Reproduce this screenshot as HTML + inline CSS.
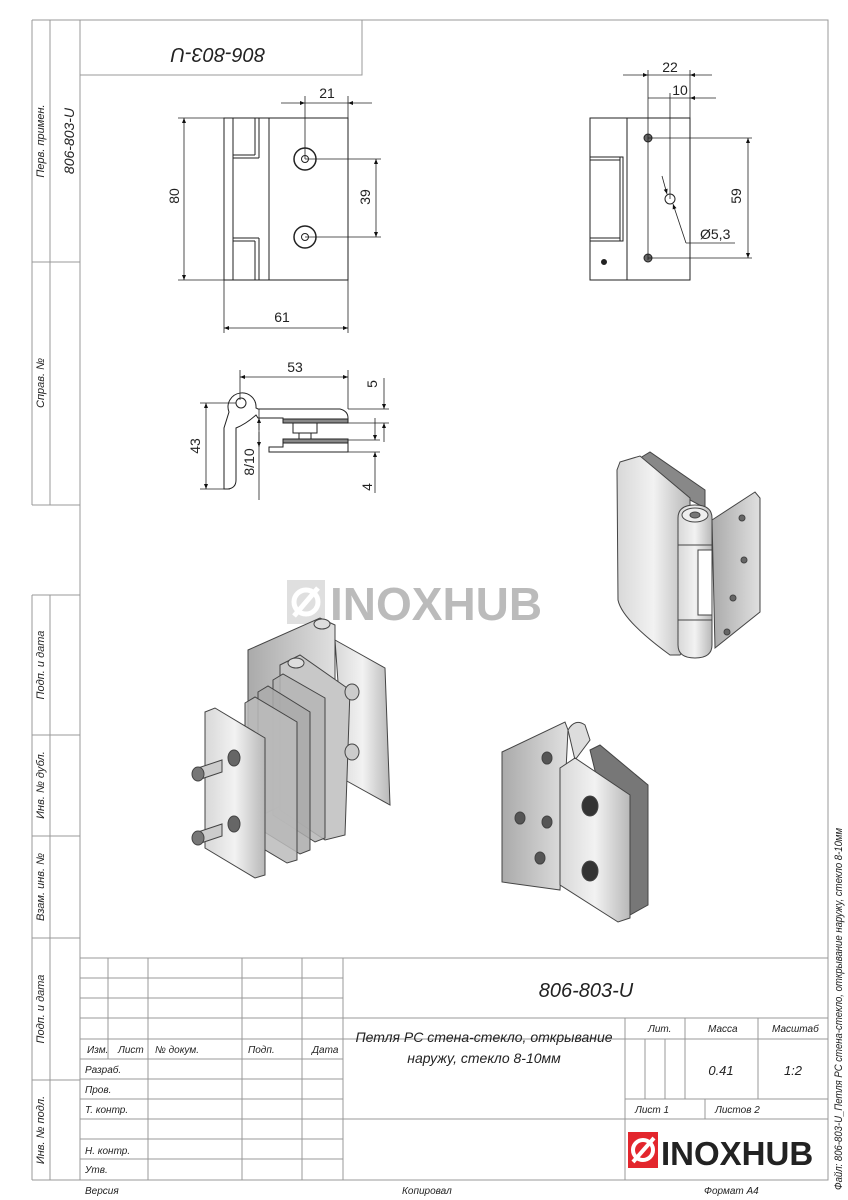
<!DOCTYPE html>
<html><head><meta charset="utf-8"><style>
body{margin:0;background:#fff}
svg{display:block}
text{font-family:"Liberation Sans Narrow","Liberation Sans",sans-serif;fill:#222;font-style:italic}
.d{font-style:normal}
</style></head><body>
<svg width="848" height="1200" viewBox="0 0 848 1200" xmlns="http://www.w3.org/2000/svg">
<defs>
<marker id="a" viewBox="0 0 10 10" refX="10" refY="5" markerWidth="9" markerHeight="5" orient="auto-start-reverse" markerUnits="userSpaceOnUse"><path d="M0,1 L10,5 L0,9z" fill="#111"/></marker>
<linearGradient id="m" x1="0" x2="1"><stop offset="0" stop-color="#d8d8d8"/><stop offset=".5" stop-color="#f2f2f2"/><stop offset="1" stop-color="#b8b8b8"/></linearGradient>
<linearGradient id="m2" x1="0" x2="1"><stop offset="0" stop-color="#aaa"/><stop offset="1" stop-color="#e0e0e0"/></linearGradient>
</defs>
<g fill="none" stroke="#999" stroke-width="1">
<rect x="80" y="20" width="748" height="1160"/>
<line x1="32" y1="20" x2="80" y2="20"/>
<line x1="32" y1="20" x2="32" y2="505"/>
<line x1="50" y1="20" x2="50" y2="505"/>
<line x1="32" y1="262" x2="80" y2="262"/>
<line x1="32" y1="505" x2="80" y2="505"/>
<line x1="32" y1="595" x2="80" y2="595"/>
<line x1="32" y1="595" x2="32" y2="1180"/>
<line x1="50" y1="595" x2="50" y2="1180"/>
<line x1="32" y1="735" x2="80" y2="735"/>
<line x1="32" y1="836" x2="80" y2="836"/>
<line x1="32" y1="938" x2="80" y2="938"/>
<line x1="32" y1="1080" x2="80" y2="1080"/>
<line x1="32" y1="1180" x2="80" y2="1180"/>
<rect x="80" y="20" width="282" height="55"/>
<line x1="80" y1="958" x2="828" y2="958"/>
<line x1="80" y1="978" x2="343" y2="978"/>
<line x1="80" y1="998" x2="343" y2="998"/>
<line x1="80" y1="1018" x2="828" y2="1018"/>
<line x1="80" y1="1039" x2="828" y2="1039"/>
<line x1="80" y1="1059" x2="343" y2="1059"/>
<line x1="80" y1="1079" x2="343" y2="1079"/>
<line x1="80" y1="1099" x2="343" y2="1099"/>
<line x1="625" y1="1099" x2="828" y2="1099"/>
<line x1="80" y1="1119" x2="828" y2="1119"/>
<line x1="80" y1="1139" x2="343" y2="1139"/>
<line x1="80" y1="1159" x2="343" y2="1159"/>
<line x1="108" y1="958" x2="108" y2="1059"/>
<line x1="148" y1="958" x2="148" y2="1180"/>
<line x1="242" y1="958" x2="242" y2="1180"/>
<line x1="302" y1="958" x2="302" y2="1180"/>
<line x1="343" y1="958" x2="343" y2="1180"/>
<line x1="625" y1="1018" x2="625" y2="1180"/>
<line x1="685" y1="1018" x2="685" y2="1099"/>
<line x1="758" y1="1018" x2="758" y2="1099"/>
<line x1="645" y1="1039" x2="645" y2="1099"/>
<line x1="665" y1="1039" x2="665" y2="1099"/>
<line x1="705" y1="1099" x2="705" y2="1119"/>
</g>
<g font-size="11">
<text transform="translate(44,141) rotate(-90)" text-anchor="middle">Перв. примен.</text>
<text transform="translate(74,141) rotate(-90)" text-anchor="middle" font-size="14">806-803-U</text>
<text transform="translate(44,383) rotate(-90)" text-anchor="middle">Справ. №</text>
<text transform="translate(44,665) rotate(-90)" text-anchor="middle">Подп. и дата</text>
<text transform="translate(44,785) rotate(-90)" text-anchor="middle">Инв. № дубл.</text>
<text transform="translate(44,887) rotate(-90)" text-anchor="middle">Взам. инв. №</text>
<text transform="translate(44,1009) rotate(-90)" text-anchor="middle">Подп. и дата</text>
<text transform="translate(44,1130) rotate(-90)" text-anchor="middle">Инв. № подл.</text>
<text transform="translate(842,1190) rotate(-90)" font-size="11" textLength="362" lengthAdjust="spacingAndGlyphs">Файл: 806-803-U_Петля PC стена-стекло, открывание наружу, стекло 8-10мм</text>
<text transform="translate(218,48) rotate(180)" text-anchor="middle" font-size="20">806-803-U</text>
</g>
<g font-size="10">
<text x="87" y="1053">Изм.</text><text x="118" y="1053">Лист</text><text x="155" y="1053">№ докум.</text><text x="248" y="1053">Подп.</text><text x="312" y="1053">Дата</text>
<text x="85" y="1073">Разраб.</text><text x="85" y="1093">Пров.</text><text x="85" y="1113">Т. контр.</text><text x="85" y="1154">Н. контр.</text><text x="85" y="1173">Утв.</text>
<text x="648" y="1032">Лит.</text><text x="708" y="1032">Масса</text><text x="772" y="1032">Масштаб</text>
<text x="635" y="1113">Лист 1</text><text x="715" y="1113">Листов 2</text>
<text x="85" y="1194">Версия</text><text x="402" y="1194">Копировал</text><text x="704" y="1194">Формат А4</text>
</g>
<text x="586" y="997" font-size="20" text-anchor="middle">806-803-U</text>
<text x="484" y="1042" font-size="14" text-anchor="middle">Петля PC стена-стекло, открывание</text>
<text x="484" y="1063" font-size="14" text-anchor="middle">наружу, стекло 8-10мм</text>
<text x="721" y="1075" font-size="13" text-anchor="middle">0.41</text>
<text x="793" y="1075" font-size="13" text-anchor="middle">1:2</text>
<rect x="628" y="1132" width="30" height="36" fill="#e3262d"/>
<circle cx="643" cy="1150" r="10" fill="none" stroke="#fff" stroke-width="4"/>
<line x1="633" y1="1162" x2="654" y2="1138" stroke="#fff" stroke-width="4"/>
<text x="661" y="1165" font-size="33" font-weight="bold" style="font-style:normal;font-family:'Liberation Sans',sans-serif" fill="#222">INOXHUB</text>
<g opacity=".3">
<rect x="287" y="580" width="38" height="44" fill="#999"/>
<circle cx="306" cy="602" r="12" fill="none" stroke="#fff" stroke-width="5"/>
<line x1="294" y1="616" x2="318" y2="588" stroke="#fff" stroke-width="5"/>
<text x="330" y="620" font-size="46" font-weight="bold" style="font-style:normal;font-family:'Liberation Sans',sans-serif" fill="#999">INOXHUB</text>
</g>

<g fill="none" stroke="#222" stroke-width="1">
<rect x="224" y="118" width="124" height="162"/>
<line x1="233" y1="118" x2="233" y2="280"/>
<line x1="269" y1="118" x2="269" y2="280"/>
<line x1="259" y1="118" x2="259" y2="158"/><line x1="255" y1="118" x2="255" y2="155"/>
<line x1="233" y1="155" x2="255" y2="155"/><line x1="233" y1="158" x2="259" y2="158"/>
<line x1="259" y1="238" x2="259" y2="280"/><line x1="255" y1="241" x2="255" y2="280"/>
<line x1="233" y1="238" x2="259" y2="238"/><line x1="233" y1="241" x2="255" y2="241"/>
<circle cx="305" cy="159" r="11" stroke-width="1.5"/><circle cx="305" cy="159" r="3.5"/>
<circle cx="305" cy="237" r="11" stroke-width="1.5"/><circle cx="305" cy="237" r="3.5"/>
<g stroke-width=".8">
<line x1="305" y1="96" x2="305" y2="159"/><line x1="348" y1="96" x2="348" y2="118"/>
<line x1="281" y1="103" x2="305" y2="103" marker-end="url(#a)"/><line x1="372" y1="103" x2="348" y2="103" marker-end="url(#a)"/>
<line x1="305" y1="103" x2="348" y2="103"/>
<line x1="178" y1="118" x2="224" y2="118"/><line x1="178" y1="280" x2="224" y2="280"/>
<line x1="184" y1="118" x2="184" y2="280" marker-start="url(#a)" marker-end="url(#a)"/>
<line x1="305" y1="159" x2="381" y2="159"/><line x1="305" y1="237" x2="381" y2="237"/>
<line x1="376" y1="159" x2="376" y2="237" marker-start="url(#a)" marker-end="url(#a)"/>
<line x1="224" y1="280" x2="224" y2="333"/><line x1="348" y1="280" x2="348" y2="333"/>
<line x1="224" y1="328" x2="348" y2="328" marker-start="url(#a)" marker-end="url(#a)"/>
</g>
</g>
<g font-size="14" class="d">
<text x="327" y="98" text-anchor="middle" class="d">21</text>
<text transform="translate(179,196) rotate(-90)" text-anchor="middle" class="d">80</text>
<text transform="translate(370,197) rotate(-90)" text-anchor="middle" class="d">39</text>
<text x="282" y="322" text-anchor="middle" class="d">61</text>
</g>

<g fill="none" stroke="#222" stroke-width="1">
<rect x="590" y="118" width="100" height="162"/>
<line x1="627" y1="118" x2="627" y2="280"/>
<rect x="590" y="157" width="33" height="84"/>
<line x1="590" y1="160" x2="620" y2="160"/><line x1="590" y1="238" x2="620" y2="238"/>
<line x1="620" y1="157" x2="620" y2="241"/>
<circle cx="604" cy="262" r="2.5" fill="#222"/>
<circle cx="648" cy="138" r="4" fill="#666"/><circle cx="648" cy="258" r="4" fill="#666"/>
<circle cx="670" cy="199" r="5"/>
<g stroke-width=".8">
<line x1="648" y1="70" x2="648" y2="260"/><line x1="670" y1="93" x2="670" y2="199"/><line x1="690" y1="70" x2="690" y2="118"/>
<line x1="623" y1="75" x2="648" y2="75" marker-end="url(#a)"/><line x1="648" y1="75" x2="690" y2="75"/><line x1="712" y1="75" x2="690" y2="75" marker-end="url(#a)"/>
<line x1="648" y1="98" x2="670" y2="98"/><line x1="716" y1="98" x2="690" y2="98" marker-end="url(#a)"/><line x1="690" y1="98" x2="670" y2="98"/>
<line x1="648" y1="138" x2="752" y2="138"/><line x1="648" y1="258" x2="752" y2="258"/>
<line x1="748" y1="138" x2="748" y2="258" marker-start="url(#a)" marker-end="url(#a)"/>
<line x1="662" y1="176" x2="667" y2="194" marker-end="url(#a)"/>
<line x1="686" y1="243" x2="673" y2="204" marker-end="url(#a)"/>
<line x1="686" y1="243" x2="735" y2="243"/>
</g>
</g>
<text x="670" y="72" font-size="14" text-anchor="middle" class="d">22</text>
<text x="680" y="95" font-size="14" text-anchor="middle" class="d">10</text>
<text transform="translate(741,196) rotate(-90)" font-size="14" text-anchor="middle" class="d">59</text>
<text x="700" y="239" font-size="14" class="d">Ø5,3</text>

<g fill="none" stroke="#222" stroke-width="1">
<path d="M229,412 A14,14 0 1 1 256,408 L258,409 L340,409 Q348,411 348,418 L348,423 L283,423 L283,418 L258,418 L256,415 Q246,424 236,428 L236,480 Q236,488 228,489 L224,489 L224,428 Z"/>
<circle cx="241" cy="403" r="5"/>
<rect x="283" y="419" width="65" height="4" fill="#888"/>
<rect x="293" y="423" width="24" height="10"/>
<rect x="299" y="433" width="12" height="6"/>
<path d="M283,439 L348,439 L348,452 L269,452 L269,447 L283,447 Z"/>
<rect x="283" y="439" width="65" height="4" fill="#888"/>
<g stroke-width=".8">
<line x1="240" y1="370" x2="240" y2="400"/><line x1="348" y1="370" x2="348" y2="409"/>
<line x1="240" y1="377" x2="348" y2="377" marker-start="url(#a)" marker-end="url(#a)"/>
<line x1="200" y1="403" x2="236" y2="403"/><line x1="200" y1="489" x2="230" y2="489"/>
<line x1="206" y1="403" x2="206" y2="489" marker-start="url(#a)" marker-end="url(#a)"/>
<line x1="259" y1="409" x2="259" y2="500"/>
<line x1="259" y1="430" x2="259" y2="418" marker-end="url(#a)"/><line x1="259" y1="432" x2="259" y2="447" marker-end="url(#a)"/>
<line x1="348" y1="409" x2="389" y2="409"/><line x1="348" y1="423" x2="389" y2="423"/>
<line x1="384" y1="378" x2="384" y2="409" marker-end="url(#a)"/><line x1="384" y1="442" x2="384" y2="423" marker-end="url(#a)"/>
<line x1="348" y1="440" x2="380" y2="440"/><line x1="348" y1="452" x2="380" y2="452"/>
<line x1="375" y1="418" x2="375" y2="440" marker-end="url(#a)"/><line x1="375" y1="493" x2="375" y2="452" marker-end="url(#a)"/>
</g>
</g>
<text x="295" y="372" font-size="14" text-anchor="middle" class="d">53</text>
<text transform="translate(200,446) rotate(-90)" font-size="14" text-anchor="middle" class="d">43</text>
<text transform="translate(254,462) rotate(-90)" font-size="14" text-anchor="middle" class="d">8/10</text>
<text transform="translate(377,384) rotate(-90)" font-size="14" text-anchor="middle" class="d">5</text>
<text transform="translate(372,487) rotate(-90)" font-size="14" text-anchor="middle" class="d">4</text>

<g stroke="#444" stroke-width="1">
<path d="M712,520 L755,492 L760,498 L760,612 L715,648 Z" fill="url(#m2)"/>
<circle cx="742" cy="518" r="3" fill="#666"/><circle cx="744" cy="560" r="3" fill="#666"/><circle cx="733" cy="598" r="3" fill="#666"/><circle cx="727" cy="632" r="3" fill="#666"/>
<path d="M640,458 L650,452 L705,490 L705,508 L690,500 Z" fill="#888"/>
<path d="M620,462 L640,456 L690,498 L690,640 L680,655 L670,655 Q622,620 618,600 L617,470 Z" fill="url(#m)"/>
<path d="M678,518 Q678,505 695,505 Q712,505 712,518 L712,645 Q712,658 695,658 Q678,658 678,645 Z" fill="url(#m)"/>
<ellipse cx="695" cy="515" rx="13" ry="7" fill="#eee"/><ellipse cx="695" cy="515" rx="5" ry="3" fill="#777"/>
<line x1="678" y1="545" x2="712" y2="545"/><line x1="678" y1="620" x2="712" y2="620"/>
<rect x="698" y="550" width="14" height="65" fill="#fff"/>
</g>
<g stroke="#444" stroke-width="1">
<path d="M502,752 L565,722 L568,730 L560,890 L502,882 Z" fill="url(#m2)"/>
<ellipse cx="547" cy="758" rx="5" ry="6" fill="#555"/><ellipse cx="520" cy="818" rx="5" ry="6" fill="#555"/><ellipse cx="547" cy="822" rx="5" ry="6" fill="#555"/><ellipse cx="540" cy="858" rx="5" ry="6" fill="#555"/>
<path d="M568,730 Q575,718 585,725 L590,740 L575,760 Z" fill="#ddd"/>
<path d="M590,750 L600,745 L648,785 L648,905 L630,915 Z" fill="#777"/>
<path d="M560,768 L575,758 L630,795 L630,918 L618,922 L560,885 Z" fill="url(#m)"/>
<ellipse cx="590" cy="806" rx="8" ry="10" fill="#333"/><ellipse cx="590" cy="871" rx="8" ry="10" fill="#333"/>
</g>
<g stroke="#444" stroke-width="1">
<path d="M248,650 L320,618 L335,625 L335,780 L262,815 L248,810 Z" fill="url(#m2)"/>
<path d="M335,640 L385,668 L390,805 L345,780 Z" fill="url(#m)"/>
<ellipse cx="322" cy="624" rx="8" ry="5" fill="#ddd"/>
<path d="M280,665 L300,655 L350,690 L345,835 L325,840 L280,810 Z" fill="#c8c8c8"/>
<ellipse cx="296" cy="663" rx="8" ry="5" fill="#ddd"/>
<ellipse cx="352" cy="692" rx="7" ry="8" fill="#ccc"/><ellipse cx="352" cy="752" rx="7" ry="8" fill="#ccc"/>
<path d="M273,680 L283,674 L325,698 L325,838 L315,842 L273,815 Z" fill="#b5b5b5" fill-opacity=".85"/>
<path d="M258,692 L268,686 L310,712 L310,850 L300,854 L258,828 Z" fill="#aaa" fill-opacity=".85"/>
<path d="M245,703 L255,697 L297,722 L297,860 L287,863 L245,838 Z" fill="#bbb" fill-opacity=".85"/>
<path d="M205,712 L215,708 L265,738 L265,875 L255,878 L205,848 Z" fill="url(#m)"/>
<ellipse cx="234" cy="758" rx="6" ry="8" fill="#666"/><ellipse cx="234" cy="824" rx="6" ry="8" fill="#666"/>
<path d="M198,768 L222,760 L222,772 L198,780 Z" fill="#ccc"/><ellipse cx="198" cy="774" rx="6" ry="7" fill="#777"/>
<path d="M198,832 L222,824 L222,836 L198,844 Z" fill="#ccc"/><ellipse cx="198" cy="838" rx="6" ry="7" fill="#777"/>
</g>
</svg>
</body></html>
